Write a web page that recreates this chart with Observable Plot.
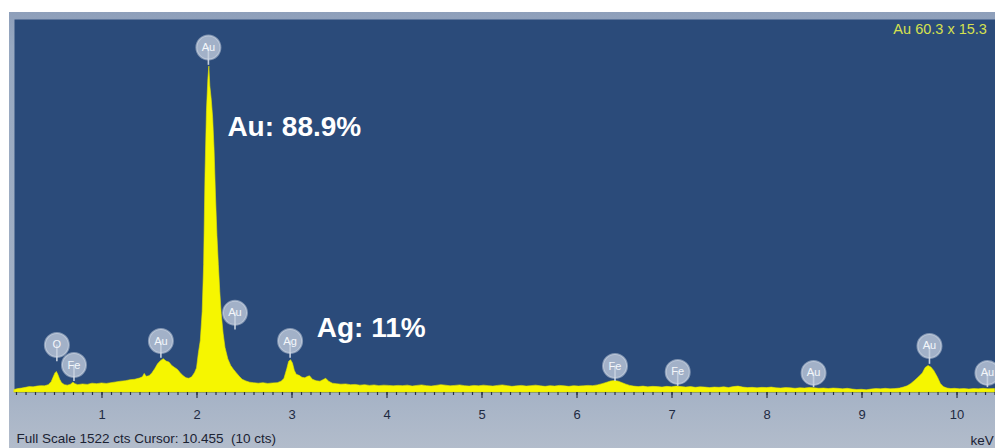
<!DOCTYPE html>
<html>
<head>
<meta charset="utf-8">
<script src="https://cdn.jsdelivr.net/npm/d3@7"></script>
<script src="https://cdn.jsdelivr.net/npm/@observablehq/plot@0.6"></script>
<style>
  html, body { margin: 0; padding: 0; background: #ffffff; }
  #wrap { padding: 12px 0 0 9px; width: 986px; height: 436px; overflow: hidden; }
  #wrap svg { display: block; }
</style>
</head>
<body>
<div id="wrap"></div>
<script>
// EDS spectrum: energy (keV) and counts
const energy = [
  0.08,0.12,0.16,0.20,0.24,0.28,0.32,0.36,0.40,0.44,0.47,0.49,0.51,0.525,0.54,0.56,0.58,0.61,0.64,0.67,
  0.70,0.72,0.75,0.80,0.85,0.90,0.95,1.00,1.05,1.10,1.15,1.20,1.25,1.30,1.35,1.40,1.43,1.45,1.47,1.50,
  1.53,1.56,1.59,1.62,1.65,1.68,1.71,1.74,1.77,1.80,1.83,1.86,1.89,1.92,1.95,1.98,2.00,2.02,2.04,2.06,
  2.075,2.09,2.105,2.12,2.13,2.14,2.155,2.17,2.185,2.20,2.215,2.23,2.245,2.26,2.28,2.30,2.33,2.36,2.39,2.42,
  2.45,2.48,2.52,2.56,2.60,2.65,2.70,2.75,2.80,2.85,2.89,2.92,2.95,2.97,2.99,3.01,3.03,3.05,3.08,3.11,
  3.14,3.17,3.19,3.22,3.26,3.30,3.33,3.36,3.39,3.43,3.47,3.52,3.57,3.62,3.67,3.72,3.77,3.82,3.87,3.92,
  3.97,4.02,4.07,4.12,4.17,4.22,4.27,4.32,4.37,4.42,4.47,4.52,4.57,4.62,4.67,4.72,4.77,4.82,4.87,4.92,
  4.97,5.02,5.07,5.12,5.17,5.22,5.27,5.32,5.37,5.42,5.47,5.52,5.57,5.62,5.67,5.72,5.77,5.82,5.87,5.92,
  5.97,6.02,6.07,6.12,6.17,6.22,6.27,6.32,6.36,6.40,6.44,6.48,6.52,6.56,6.60,6.65,6.70,6.75,6.80,6.85,
  6.90,6.95,7.00,7.05,7.10,7.15,7.20,7.25,7.30,7.35,7.40,7.45,7.50,7.55,7.60,7.65,7.70,7.75,7.80,7.85,
  7.90,7.95,8.00,8.05,8.10,8.15,8.20,8.25,8.30,8.35,8.40,8.45,8.50,8.55,8.60,8.65,8.70,8.75,8.80,8.85,
  8.90,8.95,9.00,9.05,9.10,9.15,9.20,9.25,9.30,9.35,9.40,9.44,9.48,9.52,9.56,9.60,9.64,9.67,9.70,9.73,
  9.76,9.80,9.83,9.86,9.90,9.94,9.98,10.03,10.08,10.13,10.18,10.23,10.28,10.33,10.40
];
const counts = [
  10,14,16,19,22,21,24,26,25,30,42,60,78,84,72,52,38,30,28,31,
  40,34,30,33,31,36,34,37,35,38,41,44,46,50,52,57,62,76,64,66,
  78,95,115,128,136,126,122,108,100,92,78,66,58,56,62,80,98,160,210,330,
  520,900,1150,1280,1330,1250,1195,1120,990,800,640,520,410,320,240,182,135,108,92,78,
  64,52,45,40,38,36,38,35,37,38,44,55,95,125,132,118,88,72,68,60,
  58,64,66,52,46,44,50,56,44,36,34,32,33,30,31,28,30,27,29,26,
  28,27,25,27,26,28,24,27,29,26,24,27,30,28,25,27,29,26,24,27,
  25,28,26,24,27,29,26,23,25,27,24,26,28,25,23,26,24,27,25,23,
  26,24,25,27,26,29,34,40,45,47,44,38,32,27,24,22,24,21,23,22,
  20,23,21,24,22,20,22,19,21,20,18,20,19,21,18,22,24,20,18,19,
  17,19,18,20,17,16,18,17,15,17,16,18,17,15,16,14,16,15,13,15,
  12,10,11,9,12,14,13,15,13,14,16,20,25,35,48,62,78,100,108,102,
  88,60,35,22,16,14,15,13,14,12,14,13,15,13,14
];

// peak identification bubbles
const peakElement = ["O","Fe","Au","Au","Au","Ag","Fe","Fe","Au","Au","Au"];
const peakEnergy  = [0.525,0.705,1.62,2.12,2.40,2.98,6.40,7.06,8.49,9.71,10.32];
const bubbleCounts= [194,112,210,1408,325,210,108,84,80,190,80];
const stemCounts  = [125,45,140,1335,255,140,45,25,20,115,20];

// composition annotations
const noteText   = ["Au: 88.9%","Ag: 11%"];
const noteEnergy = [2.32,3.26];
const noteCounts = [1085,264];

const tickLabels = [1,2,3,4,5,6,7,8,9,10];
const minorTicks = d3.range(1, 105).map(i => i / 10);

const spectrum = energy.map((e, i) => ({e, c: counts[i]}));
const peaks = peakElement.map((el, i) => ({el, e: peakEnergy[i], by: bubbleCounts[i], sy: stemCounts[i]}));
const notes = noteText.map((t, i) => ({t, e: noteEnergy[i], c: noteCounts[i]}));

const chart = Plot.plot({
  width: 986,
  height: 436,
  marginLeft: 5,
  marginRight: 0,
  marginTop: 7,
  marginBottom: 56,
  style: {
    background: "linear-gradient(180deg, #8e9fba 0%, #97a8c0 8%, #a6b3c6 88%, #b2bccb 100%)",
    fontFamily: "'Liberation Sans', Arial, sans-serif",
    overflow: "visible"
  },
  x: {domain: [0.079, 10.405], label: null},
  y: {domain: [0, 1522], axis: null},
  marks: [
    Plot.frame({fill: "#2b4b7a", stroke: null}),
    Plot.areaY(spectrum, {x: "e", y: "c", fill: "#f6f600", stroke: "#e6e600", strokeWidth: 0.6}),
    Plot.axisX(minorTicks, {tickSize: 3, text: null, stroke: "#2b3344", strokeWidth: 1.2}),
    Plot.axisX(tickLabels, {tickSize: 6, tickPadding: 11, fontSize: 13, color: "#1e2a42", stroke: "#2b3344", strokeWidth: 1.2}),
    Plot.ruleX(peaks, {x: "e", y1: "sy", y2: "by", stroke: "#c5cfdd", strokeWidth: 1.6}),
    Plot.dot(peaks, {x: "e", y: "by", r: 12, fill: "#c4cede", fillOpacity: 0.78, stroke: "#d6dee9", strokeOpacity: 0.5, strokeWidth: 2}),
    Plot.text(peaks, {x: "e", y: "by", text: "el", fill: "#f4f7fb", fontSize: 11}),
    Plot.text(notes, {x: "e", y: "c", text: "t", textAnchor: "start", fill: "#ffffff", fontSize: 28, fontWeight: "bold"}),
    Plot.text(["Au 60.3 x 15.3"], {x: 9.33, y: 1481, text: d => d, textAnchor: "start", fill: "#d6e04e", fontSize: 14.5}),
    Plot.text(["Full Scale 1522 cts Cursor: 10.455\u00a0 (10 cts)"], {frameAnchor: "bottom-left", text: d => d, textAnchor: "start", lineAnchor: "middle", dx: 2, dy: 46.5, fill: "#1b2233", fontSize: 13.5}),
    Plot.text(["keV"], {frameAnchor: "bottom-right", text: d => d, textAnchor: "start", lineAnchor: "middle", dx: -25, dy: 48, fill: "#1b2233", fontSize: 13.5})
  ]
});
document.getElementById("wrap").appendChild(chart);
</script>
</body>
</html>
